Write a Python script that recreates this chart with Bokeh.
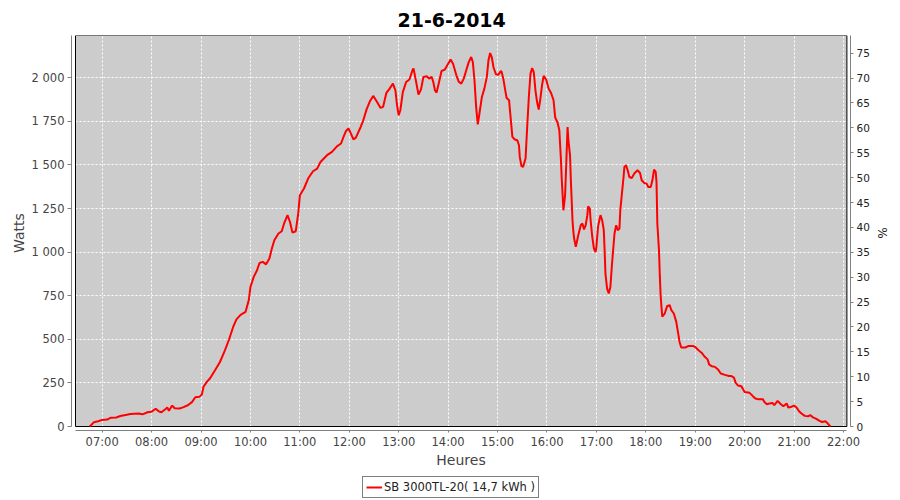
from bokeh.plotting import figure
from bokeh.layouts import column
from bokeh.models import Range1d, LinearAxis, FixedTicker, Legend, LegendItem, ColumnDataSource
from bokeh.embed import file_html
from bokeh.resources import INLINE

TITLE = "21-6-2014"
SERIES_NAME = "SB 3000TL-20( 14,7 kWh )"

TIMES = ["06:45", "06:50", "06:55", "07:00", "07:06", "07:10", "07:17", "07:22", "07:30", "07:34",
         "07:44", "07:49", "07:55", "08:00", "08:05", "08:09", "08:12", "08:17", "08:19", "08:21",
         "08:25", "08:28", "08:34", "08:38", "08:44", "08:49", "08:53", "08:58", "09:01", "09:03",
         "09:07", "09:11", "09:17", "09:23", "09:29", "09:34", "09:39", "09:43", "09:48", "09:54",
         "09:58", "10:00", "10:04", "10:08", "10:11", "10:15", "10:19", "10:23", "10:26", "10:29",
         "10:34", "10:38", "10:41", "10:45", "10:48", "10:51", "10:55", "10:58", "11:00", "11:05",
         "11:10", "11:16", "11:21", "11:25", "11:33", "11:39", "11:45", "11:50", "11:53", "11:56",
         "11:59", "12:02", "12:05", "12:08", "12:13", "12:17", "12:21", "12:25", "12:29", "12:33",
         "12:38", "12:41", "12:45", "12:49", "12:53", "12:56", "12:58", "13:00", "13:02", "13:05",
         "13:09", "13:13", "13:17", "13:18", "13:20", "13:24", "13:27", "13:30", "13:34", "13:37",
         "13:40", "13:42", "13:44", "13:46", "13:49", "13:52", "13:56", "14:00", "14:03", "14:06",
         "14:10", "14:13", "14:16", "14:19", "14:22", "14:25", "14:28", "14:30", "14:32", "14:34",
         "14:36", "14:38", "14:41", "14:44", "14:47", "14:49", "14:51", "14:53", "14:55", "14:58",
         "15:01", "15:04", "15:05", "15:07", "15:09", "15:11", "15:14", "15:16", "15:18", "15:21",
         "15:24", "15:26", "15:27", "15:29", "15:31", "15:34", "15:36", "15:38", "15:40", "15:42",
         "15:44", "15:46", "15:48", "15:50", "15:52", "15:54", "15:56", "15:59", "16:02", "16:05",
         "16:08", "16:10", "16:13", "16:15", "16:17", "16:18", "16:20", "16:22", "16:23", "16:25",
         "16:26", "16:28", "16:29", "16:31", "16:32", "16:33", "16:35", "16:38", "16:41", "16:43",
         "16:45", "16:47", "16:49", "16:50", "16:52", "16:53", "16:55", "16:57", "16:59", "17:00",
         "17:02", "17:04", "17:05", "17:07", "17:09", "17:10", "17:11", "17:13", "17:15", "17:17",
         "17:19", "17:21", "17:22", "17:24", "17:26", "17:28", "17:29", "17:31", "17:33", "17:34",
         "17:36", "17:38", "17:40", "17:43", "17:46", "17:50", "17:53", "17:55", "17:58", "18:01",
         "18:03", "18:06", "18:08", "18:10", "18:12", "18:13", "18:14", "18:16", "18:17", "18:18",
         "18:19", "18:20", "18:23", "18:26", "18:29", "18:31", "18:34", "18:37", "18:39", "18:41",
         "18:43", "18:48", "18:52", "18:57", "19:00", "19:04", "19:08", "19:11", "19:15", "19:17",
         "19:20", "19:24", "19:28", "19:31", "19:36", "19:41", "19:44", "19:47", "19:49", "19:52",
         "19:56", "20:00", "20:06", "20:10", "20:13", "20:16", "20:22", "20:24", "20:27", "20:30",
         "20:34", "20:36", "20:40", "20:44", "20:47", "20:51", "20:53", "20:56", "21:00", "21:03",
         "21:06", "21:09", "21:13", "21:17", "21:20", "21:23", "21:27", "21:31", "21:34", "21:38",
         "21:41", "21:44"]

WATTS = [0, 25, 30, 38, 40, 50, 52, 60, 68, 72,
         75, 70, 82, 85, 102, 86, 82, 100, 110, 90,
         120, 105, 103, 110, 122, 140, 168, 170, 183, 228,
         256, 277, 323, 370, 437, 499, 571, 614, 640, 657,
         725, 800, 858, 896, 938, 944, 930, 963, 1021, 1068,
         1107, 1120, 1167, 1212, 1173, 1112, 1120, 1221, 1326, 1365,
         1422, 1464, 1479, 1517, 1556, 1575, 1607, 1623, 1661, 1695,
         1709, 1680, 1647, 1657, 1709, 1756, 1819, 1865, 1896, 1867,
         1827, 1833, 1913, 1938, 1967, 1928, 1842, 1785, 1814, 1918,
         1976, 1990, 2047, 2053, 2005, 1904, 1932, 2005, 2009, 1995,
         2005, 1976, 1928, 1915, 1976, 2039, 2047, 2081, 2104, 2081,
         2014, 1976, 1967, 1995, 2043, 2090, 2119, 2090, 1986, 1833,
         1733, 1795, 1890, 1938, 2005, 2101, 2142, 2119, 2062, 2020,
         2018, 2039, 2033, 1995, 1938, 1884, 1871, 1766, 1661, 1646,
         1642, 1613, 1546, 1493, 1489, 1537, 1718, 1890, 2024, 2056,
         2033, 1928, 1861, 1818, 1881, 1957, 2011, 1990, 1938, 1913,
         1871, 1772, 1741, 1699, 1527, 1412, 1240, 1326, 1451, 1718,
         1642, 1556, 1412, 1183, 1120, 1078, 1030, 1097, 1154, 1164,
         1130, 1154, 1212, 1263, 1250, 1183, 1087, 1021, 1001, 1030,
         1145, 1193, 1212, 1183, 1126, 1011, 877, 791, 763, 800,
         935, 1049, 1107, 1154, 1126, 1135, 1240, 1336, 1431, 1489,
         1498, 1470, 1431, 1425, 1451, 1470, 1454, 1412, 1397, 1393,
         1374, 1374, 1412, 1473, 1460, 1403, 1164, 1011, 868, 753,
         686, 630, 648, 692, 696, 667, 648, 600, 543, 485,
         453, 453, 462, 462, 456, 437, 422, 403, 385, 355,
         346, 342, 325, 304, 296, 290, 289, 281, 252, 235,
         231, 198, 193, 174, 161, 157, 157, 141, 128, 132,
         135, 122, 147, 128, 116, 132, 109, 112, 120, 109,
         88, 75, 61, 59, 65, 52, 44, 32, 26, 30,
         17, 0]

HOUR_TICKS = [7, 8, 9, 10, 11, 12, 13, 14, 15, 16, 17, 18, 19, 20, 21, 22]
HOUR_LABELS = ["07:00", "08:00", "09:00", "10:00", "11:00", "12:00", "13:00", "14:00",
               "15:00", "16:00", "17:00", "18:00", "19:00", "20:00", "21:00", "22:00"]
WATT_TICKS = [0, 250, 500, 750, 1000, 1250, 1500, 1750, 2000]
WATT_LABELS = ["0", "250", "500", "750", "1 000", "1 250", "1 500", "1 750", "2 000"]
PCT_TICKS = [0, 5, 10, 15, 20, 25, 30, 35, 40, 45, 50, 55, 60, 65, 70, 75]

# plot-area extents (hours / watts / percent)
X_AREA = (6.46, 22.069)
X_FRAME = (6.379, 22.142)
W_TOP = 2242.5
W_FRAME_BOTTOM = -22.9
PCT_RANGE = (-0.803, 78.555)
PCT_TOP = 78.555

hours = [int(t[:2]) + int(t[3:]) / 60.0 for t in TIMES]
src = ColumnDataSource(data=dict(x=hours, y=WATTS))

FONT = "DejaVu Sans"
TICK_COL = "#444444"
AXIS_COL = "#808080"

p = figure(width=900, height=476,
           x_range=Range1d(*X_FRAME), y_range=Range1d(W_FRAME_BOTTOM, W_TOP),
           output_backend="svg", toolbar_location=None,
           min_border_left=71, min_border_right=50, min_border_top=35, min_border_bottom=46,
           background_fill_color="white", border_fill_color="white",
           outline_line_color=None)

p.extra_y_ranges = {"pct": Range1d(*PCT_RANGE)}
raxis = LinearAxis(y_range_name="pct", ticker=FixedTicker(ticks=PCT_TICKS), axis_label="%")
p.add_layout(raxis, "right")

p.title.text = TITLE
p.title.align = "left"
p.title.offset = 326
p.title.standoff = 18
p.title.text_font = FONT
p.title.text_font_size = "19px"
p.title.text_font_style = "bold"
p.title.text_color = "black"

p.xaxis.ticker = FixedTicker(ticks=HOUR_TICKS)
p.xaxis.major_label_overrides = dict(zip(HOUR_TICKS, HOUR_LABELS))
p.xaxis.axis_label = "Heures"
p.xaxis.bounds = X_AREA
p.yaxis[0].ticker = FixedTicker(ticks=WATT_TICKS)
p.yaxis[0].major_label_overrides = dict(zip(WATT_TICKS, WATT_LABELS))
p.yaxis[0].axis_label = "Watts"
p.yaxis[0].bounds = (0, W_TOP)
raxis.bounds = (0, PCT_TOP)

for ax in [p.xaxis[0], p.yaxis[0], raxis]:
    ax.axis_line_color = AXIS_COL
    ax.major_tick_line_color = AXIS_COL
    ax.minor_tick_line_color = None
    ax.major_tick_out = 4
    ax.major_tick_in = 0
    ax.major_label_text_color = TICK_COL
    ax.major_label_text_font = FONT
    ax.major_label_text_font_size = "11.5px"
    ax.major_label_standoff = 3
    ax.axis_label_text_font = FONT
    ax.axis_label_text_font_size = "14px"
    ax.axis_label_text_font_style = "normal"
    ax.axis_label_text_color = TICK_COL
    ax.axis_label_standoff = 2
p.xaxis.major_tick_out = 2
p.xaxis.major_label_standoff = 2
p.xaxis.axis_label_standoff = 0
raxis.major_label_text_color = "#222222"
raxis.major_label_text_font_size = "10.5px"
raxis.major_tick_out = 3
raxis.axis_label_standoff = 2
raxis.axis_label_text_font_size = "12px"
raxis.axis_label_text_color = "#222222"

for g in [p.xgrid[0], p.ygrid[0]]:
    g.grid_line_color = "white"
    g.grid_line_dash = "2 2"
    g.grid_line_width = 1
p.ygrid[0].ticker = FixedTicker(ticks=WATT_TICKS)
p.xgrid[0].ticker = FixedTicker(ticks=HOUR_TICKS)

p.quad(left=[X_AREA[0]], right=[X_AREA[1]], bottom=[0], top=[W_TOP],
       fill_color="#cccccc", line_color=None, level="image")
p.quad(left=[X_AREA[0]], right=[X_AREA[1]], bottom=[0], top=[W_TOP],
       fill_color=None, line_color="black", line_width=1)

p.line("x", "y", source=src, line_color="red", line_width=2)

# legend strip below the chart (frame aligned with the main chart's frame)
lf = figure(width=900, height=24, x_range=Range1d(0, 1), y_range=Range1d(0, 1),
            output_backend="svg", toolbar_location=None,
            x_axis_type=None, y_axis_type=None,
            min_border_left=71, min_border_right=50, min_border_top=0, min_border_bottom=0,
            background_fill_color="white", border_fill_color="white",
            outline_line_color=None)
lf.xgrid.visible = False
lf.ygrid.visible = False
# proxy renderer for the legend swatch, kept outside the visible ranges
lr = lf.line(x=[5, 6], y=[5, 6], line_color="red", line_width=2)

legend = Legend(items=[LegendItem(label=SERIES_NAME, renderers=[lr])],
                location=(291, 2), orientation="horizontal",
                border_line_color="black", border_line_width=1,
                background_fill_color="white", background_fill_alpha=1.0,
                label_text_font=FONT, label_text_font_size="11.5px",
                label_text_color="#222222",
                glyph_width=16, glyph_height=12, label_standoff=2,
                padding=3, margin=0, spacing=0, label_height=14)
lf.add_layout(legend)

layout = column(p, lf, spacing=0)
open("out.html", "w").write(file_html(layout, INLINE))
